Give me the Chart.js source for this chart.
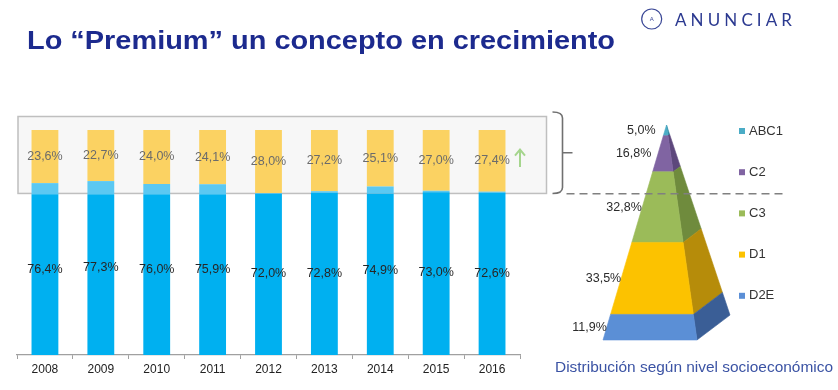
<!DOCTYPE html>
<html>
<head>
<meta charset="utf-8">
<script src="https://cdn.jsdelivr.net/npm/chart.js@4.4.1/dist/chart.umd.min.js"></script>
<style>
html,body{margin:0;padding:0;background:#fff;width:838px;height:390px;overflow:hidden}
#wrap{position:relative;width:838px;height:390px}
canvas{position:absolute;left:0;top:0}
svg{position:absolute;left:0;top:0;pointer-events:none}
</style>
</head>
<body>
<div id="wrap">
<canvas id="pyr" width="838" height="390"></canvas>
<canvas id="bars" width="838" height="390"></canvas>
<svg width="838" height="390" xmlns="http://www.w3.org/2000/svg">
  <text x="27" y="49" font-family="Liberation Sans, Arial, sans-serif" font-weight="bold" font-size="26" fill="#1c2a8e" textLength="588" lengthAdjust="spacingAndGlyphs">Lo “Premium” un concepto en crecimiento</text>
  <circle cx="651.7" cy="19" r="10" fill="none" stroke="#3a4796" stroke-width="1.2"/>
  <text x="651.7" y="21.2" font-family="Liberation Sans, Arial, sans-serif" font-size="6" text-anchor="middle" fill="#3a4796">A</text>
  <text x="675" y="25.7" font-family="Lato, sans-serif" font-size="17" fill="#2b3990" textLength="117" lengthAdjust="spacing">ANUNCIAR</text>
  <text x="555" y="372" font-family="Liberation Sans, Arial, sans-serif" font-size="15" fill="#3b53a4" textLength="278" lengthAdjust="spacingAndGlyphs">Distribución según nivel socioeconómico</text>
</svg>
</div>
<script>
// ---- data ----
const years = ['2008','2009','2010','2011','2012','2013','2014','2015','2016'];
const blueShare = [76.4, 77.3, 76.0, 75.9, 72.0, 72.8, 74.9, 73.0, 72.6];   // labelled value of blue part
const darkBlue  = [71.4, 71.5, 71.5, 71.5, 71.7, 72.0, 71.7, 72.3, 72.1];
const lightBlue = [5.0, 5.8, 4.5, 4.4, 0.3, 0.8, 3.2, 0.7, 0.5];
const premium   = [23.6, 22.7, 24.0, 24.1, 28.0, 27.2, 25.1, 27.0, 27.4];

const nseLabels = ['ABC1', 'C2', 'C3', 'D1', 'D2E'];
const nseShares = [5.0, 16.8, 32.8, 33.5, 11.9];

// ---- styles ----
const pyrFront = ['#4bacc6', '#8064a2', '#9bbb59', '#fcc200', '#5b8fd6'];
const pyrSide  = ['#2f8aa3', '#5d477c', '#6f8b3d', '#b68c0a', '#3a5e96'];
const fmt = v => v.toFixed(1).replace('.', ',') + '%';
const FONT = '"Liberation Sans", Arial, sans-serif';

// ---- bar chart plugin ----
const barDecor = {
  id: 'barDecor',
  beforeDatasetsDraw(chart) {
    const {ctx, chartArea: a, scales: {y}} = chart;
    const top = y.getPixelForValue(106), bot = y.getPixelForValue(71.8);
    const left = a.left + 1, right = a.right + 26.5;
    ctx.save();
    ctx.fillStyle = '#f7f7f7';
    ctx.fillRect(left, top, right - left, bot - top);
    ctx.strokeStyle = '#bfbfbf';
    ctx.lineWidth = 1.5;
    ctx.strokeRect(left, top, right - left, bot - top);
    ctx.restore();
  },
  afterDatasetsDraw(chart) {
    const {ctx} = chart;
    const mDark = chart.getDatasetMeta(0), mLight = chart.getDatasetMeta(1), mPrem = chart.getDatasetMeta(2);
    ctx.save();
    ctx.font = '12.5px ' + FONT;
    ctx.textAlign = 'center';
    ctx.textBaseline = 'middle';
    years.forEach((yr, i) => {
      const d = mDark.data[i], l = mLight.data[i], p = mPrem.data[i];
      const blueMid = (d.base + l.y) / 2;
      const premMid = (p.base + p.y) / 2;
      ctx.fillStyle = '#262626';
      ctx.fillText(fmt(blueShare[i]), d.x, blueMid);
      ctx.fillStyle = '#6b6b6b';
      ctx.fillText(fmt(premium[i]), p.x, premMid);
    });
    ctx.restore();
  },
  afterDraw(chart) {
    const {ctx, chartArea: a, scales: {y}} = chart;
    const top = y.getPixelForValue(106), bot = y.getPixelForValue(71.8);
    const right = a.right + 26.5;
    ctx.save();
    // green arrow
    const ax = a.right, ay0 = y.getPixelForValue(83.6), ay1 = y.getPixelForValue(91.3);
    ctx.strokeStyle = '#a5d58d';
    ctx.lineWidth = 2;
    ctx.beginPath();
    ctx.moveTo(ax, ay0);
    ctx.lineTo(ax, ay1 + 1);
    ctx.stroke();
    ctx.beginPath();
    ctx.moveTo(ax - 5, ay1 + 6);
    ctx.lineTo(ax, ay1);
    ctx.lineTo(ax + 5, ay1 + 6);
    ctx.stroke();
    // bracket
    const bTop = top - 4.5, bBot = bot, bMid = (bTop + bBot) / 2;
    const x0 = right + 6, x1 = right + 16, x2 = right + 26;
    ctx.strokeStyle = '#707070';
    ctx.lineWidth = 1.6;
    ctx.beginPath();
    ctx.moveTo(x0, bTop);
    ctx.quadraticCurveTo(x1, bTop, x1, bTop + 6);
    ctx.lineTo(x1, bBot - 6);
    ctx.quadraticCurveTo(x1, bBot, x0, bBot);
    ctx.moveTo(x1, bMid);
    ctx.lineTo(x2, bMid);
    ctx.stroke();
    // dashed divider
    ctx.strokeStyle = '#808080';
    ctx.lineWidth = 1.5;
    ctx.setLineDash([8, 5]);
    ctx.beginPath();
    ctx.moveTo(right + 20, bot + 0.3);
    ctx.lineTo(787, bot + 0.3);
    ctx.stroke();
    ctx.restore();
  }
};

const barChart = new Chart(document.getElementById('bars'), {
  type: 'bar',
  data: {
    labels: years,
    datasets: [
      {label: 'Resto', data: darkBlue, backgroundColor: '#00b0f0'},
      {label: 'Resto premium', data: lightBlue, backgroundColor: '#5bc8f2'},
      {label: 'Premium', data: premium, backgroundColor: '#fbd262'}
    ]
  },
  options: {
    responsive: false,
    animation: false,
    events: [],
    layout: {padding: {left: 17, right: 318, top: 130, bottom: 0}},
    datasets: {bar: {categoryPercentage: 1, barPercentage: 0.48, borderWidth: 0}},
    plugins: {legend: {display: false}, tooltip: {enabled: false}},
    scales: {
      x: {
        stacked: true,
        grid: {drawOnChartArea: false, drawTicks: true, tickLength: 4, color: '#a0a0a0', offset: true},
        border: {display: true, color: '#a0a0a0', width: 1.2},
        ticks: {color: '#222', font: {family: FONT, size: 12}, padding: 3, maxRotation: 0},
        afterFit(s) { s.height = 35; }
      },
      y: {display: false, stacked: true, min: 0, max: 100}
    }
  },
  plugins: [barDecor]
});

// ---- pyramid chart plugin ----
const pyramid = {
  id: 'pyramid',
  geom(chart) {
    const a = chart.chartArea;
    const apex = {x: (a.left + a.right) / 2, y: a.top};
    const fl = {x: a.left, y: a.bottom};
    const fr = {x: a.left + (a.right - a.left) * 0.74, y: a.bottom};
    const bk = {x: a.right, y: a.bottom - (a.bottom - a.top) * 0.116};
    const pt = (end, t) => ({x: apex.x + (end.x - apex.x) * t, y: apex.y + (end.y - apex.y) * t});
    return {a, apex, fl, fr, bk, pt};
  },
  seg(chart, i) {
    const a = chart.chartArea;
    const el = chart.getDatasetMeta(i).data[0];
    const y0 = Math.min(el.y, el.base), y1 = Math.max(el.y, el.base);
    return {y0, y1, t0: (y0 - a.top) / (a.bottom - a.top), t1: (y1 - a.top) / (a.bottom - a.top)};
  },
  beforeDatasetsDraw(chart) {
    const {ctx} = chart;
    const g = this.geom(chart);
    const poly = (pts, col) => {
      ctx.beginPath();
      pts.forEach((p, k) => k ? ctx.lineTo(p.x, p.y) : ctx.moveTo(p.x, p.y));
      ctx.closePath();
      ctx.fillStyle = col;
      ctx.strokeStyle = col;
      ctx.lineWidth = 0.6;
      ctx.fill();
      ctx.stroke();
    };
    ctx.save();
    chart.data.datasets.forEach((ds, i) => {
      const s = this.seg(chart, i);
      poly([g.pt(g.fr, s.t0), g.pt(g.bk, s.t0), g.pt(g.bk, s.t1), g.pt(g.fr, s.t1)], pyrSide[i]);
      poly([g.pt(g.fl, s.t0), g.pt(g.fr, s.t0), g.pt(g.fr, s.t1), g.pt(g.fl, s.t1)], ds.backgroundColor);
    });
    ctx.restore();
    return false;
  },
  afterDraw(chart) {
    const {ctx} = chart;
    const g = this.geom(chart);
    ctx.save();
    ctx.font = '12.5px ' + FONT;
    ctx.textBaseline = 'middle';
    // value labels
    ctx.textAlign = 'right';
    ctx.fillStyle = '#2b2b2b';
    chart.data.datasets.forEach((ds, i) => {
      const s = this.seg(chart, i);
      const ym = (s.y0 + s.y1) / 2;
      const t = (ym - g.a.top) / (g.a.bottom - g.a.top);
      const edge = g.pt(g.fl, t).x;
      const gap = Math.max(0, 10 - 25 * t);
      ctx.fillText(fmt(ds.data[0]), edge - gap, ym);
    });
    // legend
    ctx.textAlign = 'left';
    ctx.font = '13px ' + FONT;
    chart.data.datasets.forEach((ds, i) => {
      const yy = g.a.top + 6 + i * 41.2;
      ctx.fillStyle = ds.backgroundColor;
      ctx.fillRect(g.a.right + 9, yy - 3, 6, 6);
      ctx.fillStyle = '#333';
      ctx.fillText(ds.label, g.a.right + 19, yy);
    });
    ctx.restore();
  }
};

new Chart(document.getElementById('pyr'), {
  type: 'bar',
  data: {
    labels: ['NSE'],
    datasets: nseLabels.map((l, i) => ({label: l, data: [nseShares[i]], backgroundColor: pyrFront[i]}))
  },
  options: {
    responsive: false,
    animation: false,
    events: [],
    layout: {padding: {left: 603, right: 108, top: 125, bottom: 50}},
    plugins: {legend: {display: false}, tooltip: {enabled: false}},
    scales: {
      x: {display: false, stacked: true},
      y: {display: false, stacked: true, reverse: true, min: 0, max: 100}
    }
  },
  plugins: [pyramid]
});
</script>
</body>
</html>
